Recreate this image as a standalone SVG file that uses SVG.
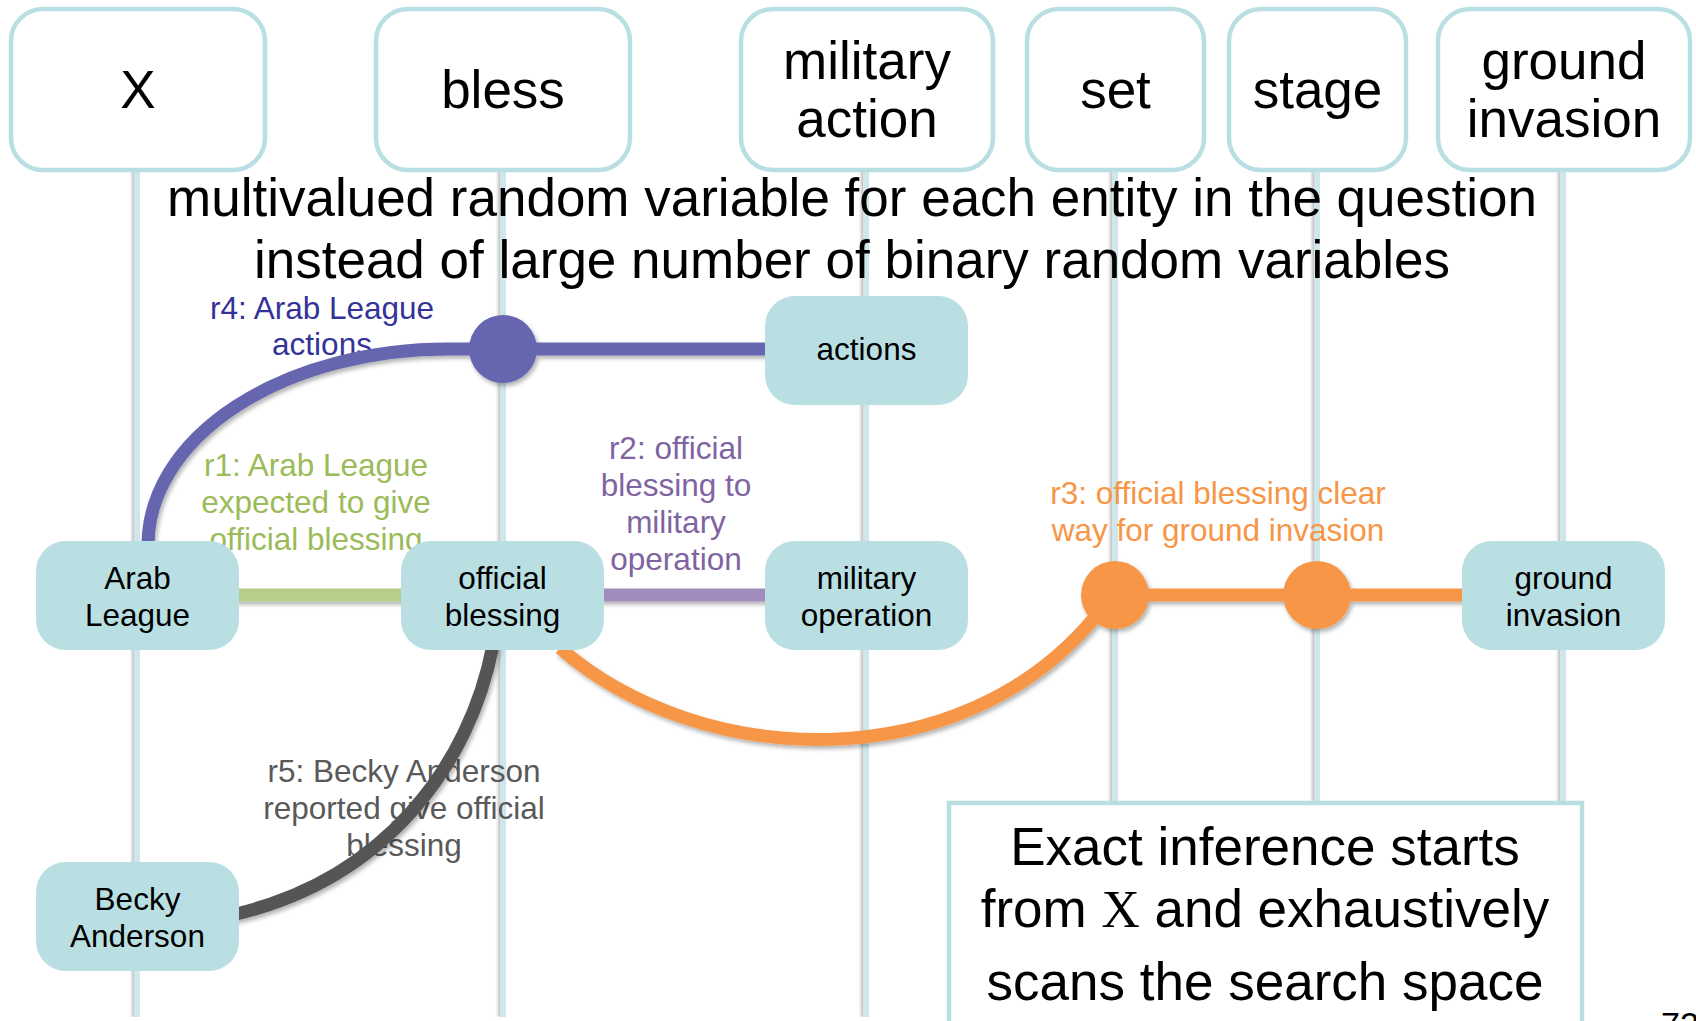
<svg xmlns="http://www.w3.org/2000/svg" width="1696" height="1021" viewBox="0 0 1696 1021">
<defs>
<style>
text{font-family:"Liberation Sans",Arial,sans-serif;text-anchor:middle}
.big{font-size:53px;fill:#000}
.nt{font-size:31.5px;fill:#000}
.lab{font-size:31.5px}
.topbox{fill:#fff;stroke:#b9dfe3;stroke-width:4.5}
.node{fill:#b9dfe3}
.lane{stroke:#cfe7eb;stroke-width:6;fill:none}
.conn{fill:none;stroke-width:13}
</style>
<filter id="sh" x="-10%" y="-10%" width="120%" height="120%">
<feDropShadow dx="2" dy="3" stdDeviation="2" flood-color="#000" flood-opacity="0.3"/>
</filter>
<filter id="lsh" x="-100%" y="0%" width="300%" height="100%">
<feDropShadow dx="-2" dy="0" stdDeviation="1.5" flood-color="#000" flood-opacity="0.25"/>
</filter>
</defs>
<rect width="1696" height="1021" fill="#fff"/>

<g id="lanes" filter="url(#lsh)">
<line class="lane" x1="137" y1="170" x2="137" y2="1017"/>
<line class="lane" x1="503" y1="170" x2="503" y2="1017"/>
<line class="lane" x1="866" y1="170" x2="866" y2="1017"/>
<line class="lane" x1="1115" y1="170" x2="1115" y2="1017"/>
<line class="lane" x1="1317" y1="170" x2="1317" y2="1017"/>
<line class="lane" x1="1563" y1="170" x2="1563" y2="1017"/>
</g>

<g id="title">
<text class="big" x="852" y="216">multivalued random variable for each entity in the question</text>
<text class="big" x="852" y="278">instead of large number of binary random variables</text>
</g>

<g id="labels">
<text class="lab" fill="#333399" x="322" y="319">r4: Arab League<tspan x="322" dy="36">actions</tspan></text>
<text class="lab" fill="#9bbb59" x="316" y="476">r1: Arab League<tspan x="316" dy="37">expected to give</tspan><tspan x="316" dy="37">official blessing</tspan></text>
<text class="lab" fill="#8064a2" x="676" y="459">r2: official<tspan x="676" dy="37">blessing to</tspan><tspan x="676" dy="37">military</tspan><tspan x="676" dy="37">operation</tspan></text>
<text class="lab" fill="#f79646" x="1218" y="504">r3: official blessing clear<tspan x="1218" dy="37">way for ground invasion</tspan></text>
<text class="lab" fill="#595959" x="404" y="782">r5: Becky Anderson<tspan x="404" dy="37">reported give official</tspan><tspan x="404" dy="37">blessing</tspan></text>
</g>

<g id="top-X"><rect class="topbox" x="11" y="9" width="254" height="161" rx="32"/><text class="big" x="138" y="108">X</text></g>
<g id="top-bless"><rect class="topbox" x="376" y="9" width="254" height="161" rx="32"/><text class="big" x="503" y="108">bless</text></g>
<g id="top-military-action"><rect class="topbox" x="741" y="9" width="252" height="161" rx="32"/><text class="big" x="867" y="79">military<tspan x="867" dy="58">action</tspan></text></g>
<g id="top-set"><rect class="topbox" x="1027" y="9" width="177" height="161" rx="32"/><text class="big" x="1115.5" y="108">set</text></g>
<g id="top-stage"><rect class="topbox" x="1229" y="9" width="177" height="161" rx="32"/><text class="big" x="1317.5" y="108">stage</text></g>
<g id="top-ground-invasion"><rect class="topbox" x="1438" y="9" width="252" height="161" rx="32"/><text class="big" x="1564" y="79">ground<tspan x="1564" dy="58">invasion</tspan></text></g>

<g id="connectors" filter="url(#sh)">
<path class="conn" stroke="#6666b0" d="M148 545 A300 196 0 0 1 448 349 L775 349"/>
<circle cx="503" cy="349" r="34" fill="#6666b0"/>
<line class="conn" stroke="#b5ce8a" x1="235" y1="595" x2="405" y2="595"/>
<line class="conn" stroke="#a28bbd" x1="600" y1="595" x2="770" y2="595"/>
<path class="conn" stroke="#f79646" stroke-width="15" d="M560 648 C700 770 960 780 1095 617"/>
<line class="conn" stroke="#f79646" x1="1115" y1="595" x2="1470" y2="595"/>
<circle cx="1115" cy="595" r="34" fill="#f79646"/>
<circle cx="1317" cy="595" r="34" fill="#f79646"/>
<path class="conn" stroke="#555555" d="M493 645 C470 765 385 880 232 915"/>
</g>

<g id="node-actions"><rect class="node" x="765" y="296" width="203" height="109" rx="30"/><text class="nt" x="866.5" y="360">actions</text></g>
<g id="node-arab-league"><rect class="node" x="36" y="541" width="203" height="109" rx="30"/><text class="nt" x="137.5" y="589">Arab<tspan x="137.5" dy="37">League</tspan></text></g>
<g id="node-official-blessing"><rect class="node" x="401" y="541" width="203" height="109" rx="30"/><text class="nt" x="502.5" y="589">official<tspan x="502.5" dy="37">blessing</tspan></text></g>
<g id="node-military-operation"><rect class="node" x="765" y="541" width="203" height="109" rx="30"/><text class="nt" x="866.5" y="589">military<tspan x="866.5" dy="37">operation</tspan></text></g>
<g id="node-ground-invasion"><rect class="node" x="1462" y="541" width="203" height="109" rx="30"/><text class="nt" x="1563.5" y="589">ground<tspan x="1563.5" dy="37">invasion</tspan></text></g>
<g id="node-becky-anderson"><rect class="node" x="36" y="862" width="203" height="109" rx="30"/><text class="nt" x="137.5" y="910">Becky<tspan x="137.5" dy="37">Anderson</tspan></text></g>

<g id="note">
<rect x="949" y="803" width="633" height="240" fill="#fff" stroke="#b9dfe3" stroke-width="4.5"/>
<text class="big" x="1265" y="865">Exact inference starts</text>
<text class="big" x="1265" y="927">from <tspan font-family="'Liberation Serif',serif">X</tspan> and exhaustively</text>
<text class="big" x="1265" y="1000">scans the search space</text>
</g>
<text x="1680" y="1036" style="font-size:34px;fill:#000">72</text>
</svg>
